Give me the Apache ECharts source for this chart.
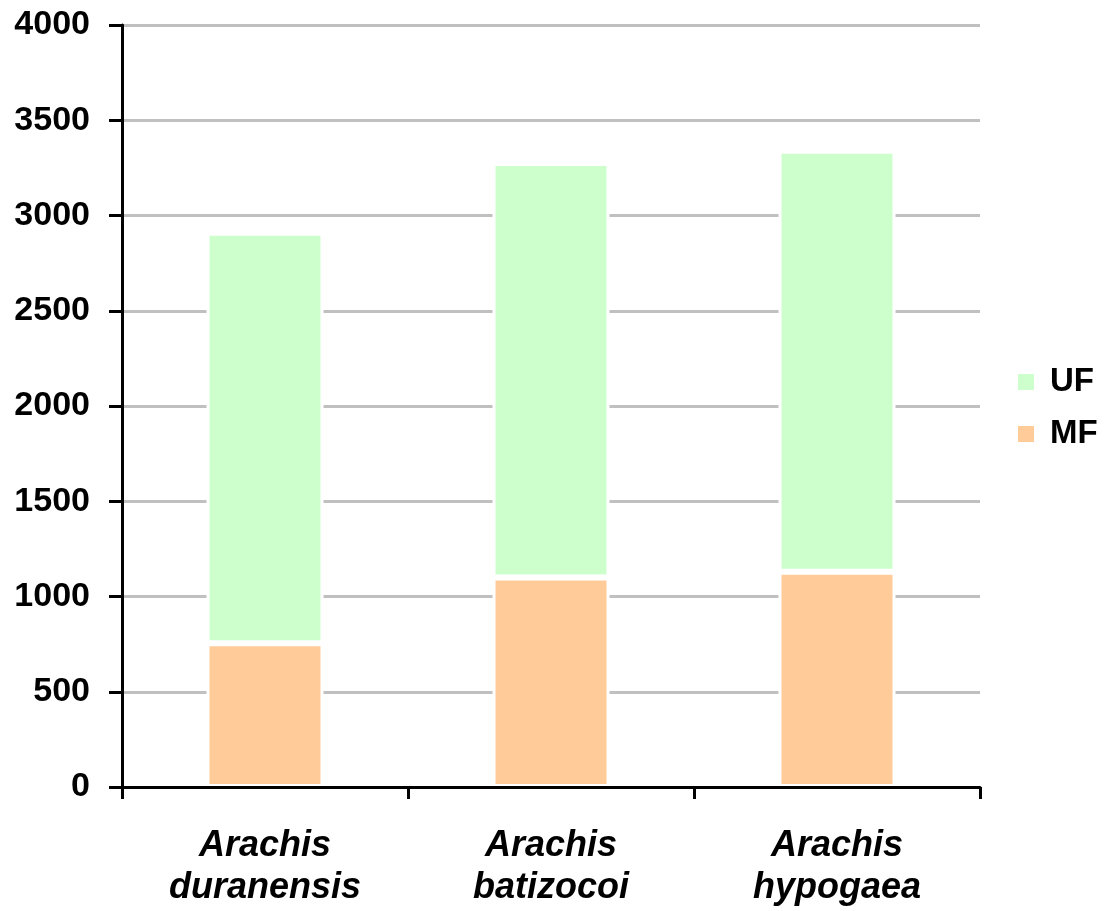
<!DOCTYPE html>
<html>
<head>
<meta charset="utf-8">
<script src="https://cdn.jsdelivr.net/npm/echarts@6/dist/echarts.min.js"></script>
<style>
  html, body { margin: 0; padding: 0; background: #fff; }
  #chart { width: 1104px; height: 911px; }
</style>
</head>
<body>
<div id="chart"></div>
<script>
// Species on the x axis (two-line italic labels)
const species = ['Arachis\nduranensis', 'Arachis\nbatizocoi', 'Arachis\nhypogaea'];
// Stacked counts per species
const mfValues = [755, 1100, 1130];
const ufValues = [2155, 2175, 2210];
// Y axis range
const yMin = 0;
const yMax = 4000;
const yStep = 500;

const FONT = '"Liberation Sans", Arial, sans-serif';
const chart = echarts.init(document.getElementById('chart'), null, { renderer: 'canvas' });

chart.setOption({
  backgroundColor: '#ffffff',
  animation: false,
  grid: { left: 122, right: 124, top: 25, bottom: 124, containLabel: false },
  legend: {
    orient: 'vertical',
    left: 1016,
    top: 362,
    padding: 0,
    itemWidth: 18,
    itemHeight: 18,
    itemGap: 12,
    icon: 'rect',
    data: ['UF', 'MF'],
    textStyle: { fontFamily: FONT, fontWeight: 'bold', fontSize: 33, color: '#000', lineHeight: 40, padding: [0, 0, 0, 10] }
  },
  xAxis: {
    type: 'category',
    data: species,
    boundaryGap: true,
    z: 3,
    axisLine: { lineStyle: { color: '#000', width: 3 } },
    axisTick: { show: true, length: 12, inside: false, lineStyle: { color: '#000', width: 3 } },
    axisLabel: {
      fontFamily: FONT, fontWeight: 'bold', fontStyle: 'italic', fontSize: 36,
      color: '#000', lineHeight: 42, margin: 38, interval: 0
    }
  },
  yAxis: {
    type: 'value',
    min: yMin,
    max: yMax,
    interval: yStep,
    axisLine: { show: true, lineStyle: { color: '#000', width: 3 } },
    axisTick: { show: true, length: 13, lineStyle: { color: '#000', width: 3 } },
    axisLabel: {
      fontFamily: FONT, fontWeight: 'bold', fontSize: 34, color: '#000', margin: 32,
      formatter: (v) => String(v)
    },
    splitLine: { show: true, lineStyle: { color: '#c0c0c0', width: 3 } }
  },
  series: [
    {
      name: 'MF',
      type: 'bar',
      stack: 'total',
      data: mfValues,
      barWidth: 117,
      itemStyle: { color: '#ffcc99', borderColor: '#ffffff', borderWidth: 3 }
    },
    {
      name: 'UF',
      type: 'bar',
      stack: 'total',
      data: ufValues,
      barWidth: 117,
      itemStyle: { color: '#ccffcc', borderColor: '#ffffff', borderWidth: 3 }
    }
  ]
});
</script>
</body>
</html>
